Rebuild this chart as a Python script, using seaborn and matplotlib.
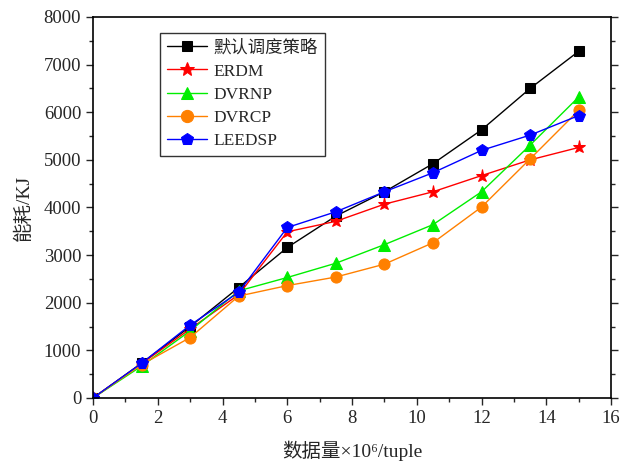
import pandas as pd
import matplotlib
matplotlib.use('Agg')
import matplotlib.pyplot as plt
import seaborn as sns
from matplotlib.ticker import MultipleLocator

# data
x_values = [0, 1.5, 3, 4.5, 6, 7.5, 9, 10.5, 12, 13.5, 15]
default_sched = [0, 730, 1500, 2320, 3160, 3820, 4330, 4920, 5630, 6500, 7280]
erdm = [0, 720, 1450, 2170, 3490, 3710, 4070, 4330, 4670, 5000, 5260]
dvrnp = [0, 670, 1410, 2250, 2530, 2830, 3220, 3640, 4330, 5310, 6320]
dvrcp = [0, 700, 1270, 2140, 2360, 2540, 2810, 3260, 4010, 5020, 6040]
leedsp = [0, 730, 1530, 2220, 3580, 3910, 4330, 4730, 5200, 5520, 5930]

series_names = ['默认调度策略', 'ERDM', 'DVRNP', 'DVRCP', 'LEEDSP']
series_values = [default_sched, erdm, dvrnp, dvrcp, leedsp]
colors = ['black', 'red', '#00ee00', '#ff8000', 'blue']
markers = ['s', '*', '^', 'o', 'p']
msizes = [6.5, 9.5, 8, 8, 8.5]

rows = []
for name, vals in zip(series_names, series_values):
    for xv, yv in zip(x_values, vals):
        rows.append({'x': xv, 'y': yv, 'series': name})
df = pd.DataFrame(rows)

sns.set_style('white')
plt.rcParams['font.family'] = ['Liberation Serif', 'Noto Sans CJK SC', 'DejaVu Sans']

fig = plt.figure(figsize=(6.21, 4.72), dpi=100)
ax = fig.add_axes([0.1498, 0.1568, 0.8342, 0.8072])

for name, c, m, ms in zip(series_names, colors, markers, msizes):
    sub = df[df['series'] == name]
    sns.lineplot(data=sub, x='x', y='y', ax=ax, color=c, marker=m,
                 markersize=ms, markeredgecolor=c, linewidth=1,
                 label=name, estimator=None)

ax.set_xlim(0, 16)
ax.set_ylim(0, 8000)
ax.xaxis.set_major_locator(MultipleLocator(2))
ax.xaxis.set_minor_locator(MultipleLocator(1))
ax.yaxis.set_major_locator(MultipleLocator(1000))
ax.yaxis.set_minor_locator(MultipleLocator(500))
ax.tick_params(which='both', direction='out', labelsize=13.5, width=1,
               right=True, left=True, bottom=True)
ax.tick_params(which='major', length=5)
ax.tick_params(which='minor', length=3)
ax.tick_params(axis='y', labelright=False)
for s in ax.spines.values():
    s.set_linewidth(1.2)
    s.set_color('black')

ax.set_xlabel('数据量×10⁶/tuple', fontsize=14, labelpad=10)
ax.set_ylabel('能耗/KJ', fontsize=14, labelpad=8)

leg = ax.legend(loc='upper left', bbox_to_anchor=(0.129, 0.958), fontsize=12.5,
                frameon=True, fancybox=False, edgecolor='black',
                handlelength=2.3, labelspacing=0.4, borderpad=0.4,
                borderaxespad=0, handletextpad=0.4, markerscale=1.1)
leg.get_frame().set_linewidth(1)

plt.savefig('out.png', dpi=100)
